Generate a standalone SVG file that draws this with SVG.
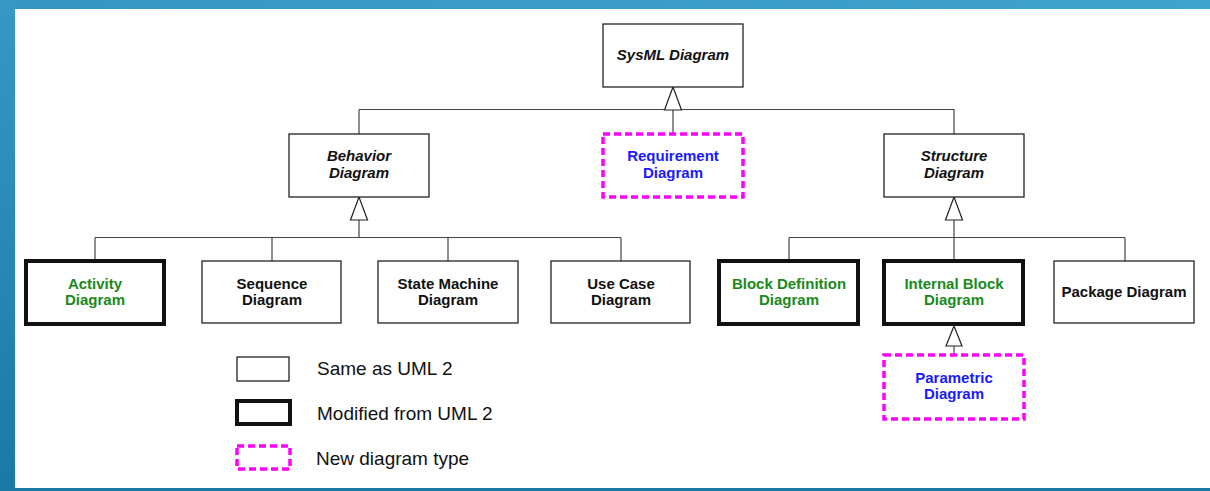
<svg xmlns="http://www.w3.org/2000/svg" width="1210" height="491" viewBox="0 0 1210 491">
  <defs>
    <linearGradient id="leftBand" x1="0" y1="0" x2="0" y2="1">
      <stop offset="0" stop-color="#3698c6"/>
      <stop offset="1" stop-color="#1c78a5"/>
    </linearGradient>
    <linearGradient id="topBand" x1="0" y1="0" x2="1" y2="0">
      <stop offset="0" stop-color="#3596c5"/>
      <stop offset="1" stop-color="#3ea3cd"/>
    </linearGradient>
  </defs>
  <style>
    .box { fill: #ffffff; stroke: #222222; stroke-width: 1.3; }
    .mod { fill: #ffffff; stroke: #111111; stroke-width: 4; }
    .new { fill: #ffffff; stroke: #ff00ff; stroke-width: 3.5; stroke-dasharray: 7 4; }
    .wire { fill: none; stroke: #444444; stroke-width: 1.2; }
    .head { fill: #ffffff; stroke: #222222; stroke-width: 1.2; }
    text { font-family: "Liberation Sans", Arial, sans-serif; font-size: 15px; font-weight: bold; text-anchor: middle; fill: #111111; }
    .abs { font-style: italic; }
    .green { fill: #1a8a1a; }
    .blue { fill: #1a1aff; }
    .legend { font-weight: normal; font-size: 19px; text-anchor: start; fill: #111111; }
  </style>

  <!-- page frame -->
  <rect x="0" y="0" width="1210" height="491" fill="#ffffff"/>
  <rect x="0" y="0" width="1210" height="9" fill="url(#topBand)"/>
  <rect x="0" y="0" width="15" height="491" fill="url(#leftBand)"/>
  <rect x="0" y="488" width="1210" height="3" fill="#1c7aa6"/>

  <!-- connectors -->
  <g id="connectors">
    <path class="wire" d="M673 110 V134 M359 109.5 H954 V134 M359 109.5 V134"/>
    <path class="wire" d="M359 220 V237.5 M95 237.5 H621 M95 237.5 V261 M272 237.5 V261 M448 237.5 V261 M621 237.5 V261"/>
    <path class="wire" d="M954 220 V237.5 M789 237.5 H1125 M789 237.5 V259 M954 237.5 V259 M1125 237.5 V261"/>
    <path class="wire" d="M954 346 V355"/>
    <polygon class="head" points="673,87 664.5,110 681.5,110"/>
    <polygon class="head" points="359,197 350.5,220 367.5,220"/>
    <polygon class="head" points="954,197 945.5,220 962.5,220"/>
    <polygon class="head" points="954,326 946,346 962,346"/>
  </g>

  <g id="sysml">
    <rect class="box" x="603" y="24" width="140" height="63"/>
    <text class="abs" x="673" y="60">SysML Diagram</text>
  </g>

  <g id="behavior">
    <rect class="box" x="289" y="134" width="140" height="63"/>
    <text class="abs" x="359" y="161">Behavior</text>
    <text class="abs" x="359" y="178">Diagram</text>
  </g>

  <g id="requirement">
    <rect class="new" x="603" y="134" width="140" height="63"/>
    <text class="blue" x="673" y="161">Requirement</text>
    <text class="blue" x="673" y="178">Diagram</text>
  </g>

  <g id="structure">
    <rect class="box" x="884" y="134" width="140" height="63"/>
    <text class="abs" x="954" y="161">Structure</text>
    <text class="abs" x="954" y="178">Diagram</text>
  </g>

  <g id="activity">
    <rect class="mod" x="26" y="261" width="138" height="63"/>
    <text class="green" x="95" y="289">Activity</text>
    <text class="green" x="95" y="305">Diagram</text>
  </g>

  <g id="sequence">
    <rect class="box" x="202" y="261" width="139" height="62"/>
    <text x="272" y="289">Sequence</text>
    <text x="272" y="305">Diagram</text>
  </g>

  <g id="state-machine">
    <rect class="box" x="378" y="261" width="140" height="62"/>
    <text x="448" y="289">State Machine</text>
    <text x="448" y="305">Diagram</text>
  </g>

  <g id="use-case">
    <rect class="box" x="551" y="261" width="139" height="62"/>
    <text x="621" y="289">Use Case</text>
    <text x="621" y="305">Diagram</text>
  </g>

  <g id="block-definition">
    <rect class="mod" x="719" y="261" width="139" height="63"/>
    <text class="green" x="789" y="289">Block Definition</text>
    <text class="green" x="789" y="305">Diagram</text>
  </g>

  <g id="internal-block">
    <rect class="mod" x="884" y="261" width="139" height="63"/>
    <text class="green" x="954" y="289">Internal Block</text>
    <text class="green" x="954" y="305">Diagram</text>
  </g>

  <g id="package">
    <rect class="box" x="1054" y="261" width="140" height="62"/>
    <text x="1124" y="297">Package Diagram</text>
  </g>

  <g id="parametric">
    <rect class="new" x="884" y="355" width="140" height="64"/>
    <text class="blue" x="954" y="383">Parametric</text>
    <text class="blue" x="954" y="399">Diagram</text>
  </g>

  <!-- legend -->
  <g id="legend">
    <rect class="box" x="237" y="357" width="52" height="24"/>
    <text class="legend" x="317" y="375">Same as UML 2</text>
    <rect class="mod" x="237" y="401" width="53" height="23"/>
    <text class="legend" x="317" y="420">Modified from UML 2</text>
    <rect class="new" x="237" y="446" width="53" height="23"/>
    <text class="legend" x="316" y="465">New diagram type</text>
  </g>
</svg>
